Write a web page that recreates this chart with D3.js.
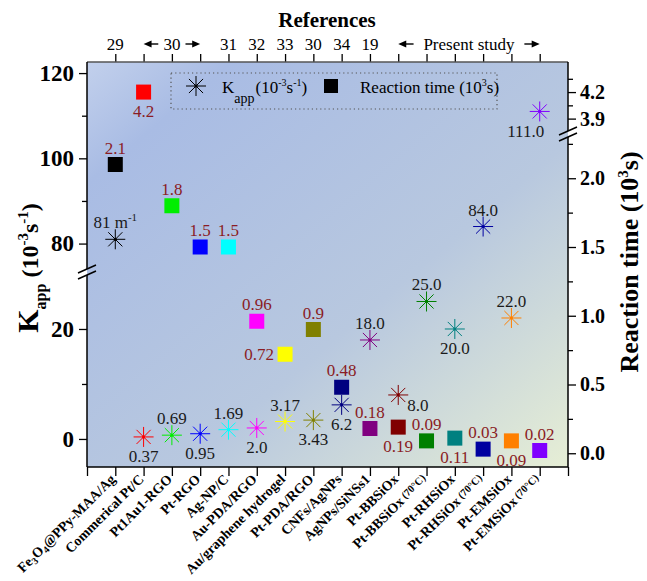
<!DOCTYPE html>
<html>
<head>
<meta charset="utf-8">
<script src="https://cdn.jsdelivr.net/npm/d3@7"></script>
<style>
  body { margin: 0; background: #fff; }
  text { font-family: "Liberation Serif", "Times New Roman", serif; }
</style>
</head>
<body>
<svg width="647" height="581"></svg>
<script>
// categories (bottom axis)
const categories = [
    "Fe3O4@PPy-MAA/Ag", "Commerical Pt/C", "Pt1Au1-RGO", "Pt-RGO", "Ag-NP/C",
    "Au-PDA/RGO", "Au/graphene hydrogel", "Pt-PDA/RGO", "CNFs/AgNPs", "AgNPs/SiNSs1",
    "Pt-BBSiOx", "Pt-BBSiOx (70°C)", "Pt-RHSiOx", "Pt-RHSiOx (70°C)", "Pt-EMSiOx", "Pt-EMSiOx (70°C)"
];

// reference numbers on top axis and how many categories each one covers
const refNames = ["29", "30", "31", "32", "33", "30", "34", "19", "Present study"];
const refSpans = [1, 3, 1, 1, 1, 1, 1, 1, 6];

// K_app (10^-3 s^-1)
const kapp = [81, 0.37, 0.69, 0.95, 1.69, 2.0, 3.17, 3.43, 6.2, 18.0, 8.0, 25.0, 20.0, 84.0, 22.0, 111.0];
const kappLabels = ["81 m-1", "0.37", "0.69", "0.95", "1.69", "2.0", "3.17", "3.43", "6.2", "18.0", "8.0", "25.0", "20.0", "84.0", "22.0", "111.0"];
const kappLabelPos = ["above", "below", "above", "below", "above", "below", "above", "below",
    "below", "above", "right", "above", "below", "above", "above", "belowleft"];

// reaction time (10^3 s)
const rtime = [2.1, 4.2, 1.8, 1.5, 1.5, 0.96, 0.72, 0.9, 0.48, 0.18, 0.19, 0.09, 0.11, 0.03, 0.09, 0.02];
const rtimeLabels = ["2.1", "4.2", "1.8", "1.5", "1.5", "0.96", "0.72", "0.9", "0.48", "0.18", "0.19", "0.09", "0.11", "0.03", "0.09", "0.02"];
const rtimeLabelPos = ["above", "below", "above", "above", "above", "above", "left", "above",
    "above", "above", "below", "above", "below", "above", "below", "above"];

const colors = ["#000000", "#ff0000", "#00ee00", "#0000ff", "#00ffff", "#ff00ff", "#ffff00", "#808000",
    "#000080", "#800080", "#800000", "#008000", "#008080", "#0000a0", "#ff8000", "#8000ff"];

// axis ticks
const kLowTicks = [0, 20], kLowMinor = [10];
const kHighTicks = [80, 100, 120], kHighMinor = [90, 110];
const tLowTicks = [0, 0.5, 1.0, 1.5, 2.0], tLowMinor = [0.25, 0.75, 1.25, 1.75, 2.25];
const tHighTicks = [3.9, 4.2], tHighMinor = [4.05, 4.35];

const chart = () => {
    const svg = d3.select("svg");
    const left = 87, right = 568, top = 62, bottom = 467;
    const brkL = 272, brkR = 134;

    const x = d3.scaleLinear().domain([0, categories.length + 1]).range([left, right]);
    // broken left axis
    const kLow = d3.scaleLinear().domain([-5.1, 30]).range([bottom, 274]);
    const kHigh = d3.scaleLinear().domain([73.8, 122.6]).range([270, top]);
    const ky = v => v > 50 ? kHigh(v) : kLow(v);
    // broken right axis
    const tLow = d3.scaleLinear().domain([-0.1, 2.3]).range([bottom, 137]);
    const tHigh = d3.scaleLinear().domain([3.76, 4.54]).range([131, top]);
    const ty = v => v > 3 ? tHigh(v) : tLow(v);

    // background gradient
    const defs = svg.append("defs");
    const grad = defs.append("linearGradient").attr("id", "bg")
        .attr("x1", 0).attr("y1", 0).attr("x2", 1).attr("y2", 1);
    grad.append("stop").attr("offset", 0).attr("stop-color", "#c2d0ec");
    grad.append("stop").attr("offset", 0.15).attr("stop-color", "#a9bce4");
    grad.append("stop").attr("offset", 0.6).attr("stop-color", "#b8c8df");
    grad.append("stop").attr("offset", 1).attr("stop-color", "#e6eed5");

    svg.append("rect")
        .attr("x", left).attr("y", top)
        .attr("width", right - left).attr("height", bottom - top)
        .attr("fill", "url(#bg)");

    // ---- axes ----
    const tickStyle = g => {
        g.select(".domain").remove();
        g.selectAll("line").attr("stroke", "#000").attr("stroke-width", 1.3);
    };

    const leftAxis = (scale, ticks, minor) => {
        svg.append("g").attr("transform", `translate(${left},0)`)
            .call(d3.axisLeft(scale).tickValues(ticks).tickSize(8).tickPadding(5))
            .call(tickStyle)
            .call(g => g.selectAll("text").attr("font-size", 23).attr("font-weight", "bold")
                .attr("font-family", "Liberation Serif").attr("fill", "#000"));
        svg.append("g").attr("transform", `translate(${left},0)`)
            .call(d3.axisLeft(scale).tickValues(minor).tickSize(5).tickFormat(""))
            .call(tickStyle);
    };
    leftAxis(kLow, kLowTicks, kLowMinor);
    leftAxis(kHigh, kHighTicks, kHighMinor);

    const rightAxis = (scale, ticks, minor) => {
        svg.append("g").attr("transform", `translate(${right},0)`)
            .call(d3.axisRight(scale).tickValues(ticks).tickSize(8).tickPadding(4).tickFormat(d3.format(".1f")))
            .call(tickStyle)
            .call(g => g.selectAll("text").attr("font-size", 20).attr("font-weight", "bold")
                .attr("font-family", "Liberation Serif").attr("fill", "#000"));
        svg.append("g").attr("transform", `translate(${right},0)`)
            .call(d3.axisRight(scale).tickValues(minor).tickSize(5).tickFormat(""))
            .call(tickStyle);
    };
    rightAxis(tLow, tLowTicks, tLowMinor);
    rightAxis(tHigh, tHighTicks, tHighMinor);

    // bottom and top ticks
    svg.append("g").attr("transform", `translate(0,${bottom})`)
        .call(d3.axisBottom(x).tickValues(d3.range(0, categories.length + 2)).tickSize(9).tickFormat(""))
        .call(tickStyle);
    svg.append("g").attr("transform", `translate(0,${top})`)
        .call(d3.axisTop(x).tickValues(d3.range(1, categories.length + 1)).tickSize(8).tickFormat(""))
        .call(tickStyle);

    // axis lines with breaks
    const axisLines = svg.append("g").attr("stroke", "#000").attr("stroke-width", 1.5).attr("fill", "none");
    axisLines.append("line").attr("x1", left).attr("x2", right).attr("y1", bottom).attr("y2", bottom);
    axisLines.append("line").attr("x1", left).attr("x2", right).attr("y1", top).attr("y2", top)
        .attr("stroke", "#555");
    axisLines.append("line").attr("x1", left).attr("x2", left).attr("y1", top).attr("y2", brkL - 3);
    axisLines.append("line").attr("x1", left).attr("x2", left).attr("y1", brkL + 3).attr("y2", bottom);
    axisLines.append("line").attr("x1", right).attr("x2", right).attr("y1", top).attr("y2", brkR - 3);
    axisLines.append("line").attr("x1", right).attr("x2", right).attr("y1", brkR + 3).attr("y2", bottom);
    [[left, brkL], [right, brkR]].forEach(([bx, by]) => {
        [-3, 3].forEach(off => {
            axisLines.append("line")
                .attr("x1", bx - 9).attr("y1", by + off + 4)
                .attr("x2", bx + 9).attr("y2", by + off - 4)
                .attr("stroke-width", 1.4);
        });
    });

    // ---- top references ----
    const refG = svg.append("g").attr("font-size", 17).attr("fill", "#000");
    let start = 1;
    refNames.forEach((name, i) => {
        const span = refSpans[i];
        const cx = x(start + (span - 1) / 2);
        refG.append("text").attr("x", cx).attr("y", 50).attr("text-anchor", "middle").text(name);
        if (span > 1) {
            const x0 = x(start), x1 = x(start + span - 1);
            const w = name.length * 7.6 / 2 + 6;
            [[x0, cx - w], [x1, cx + w]].forEach(([tip, tail]) => {
                const dir = tip < tail ? 1 : -1;
                refG.append("line").attr("x1", tail).attr("x2", tip + dir * 6)
                    .attr("y1", 44).attr("y2", 44).attr("stroke", "#000").attr("stroke-width", 1.4);
                refG.append("path")
                    .attr("d", `M${tip},44 L${tip + dir * 8},40.5 L${tip + dir * 8},47.5 Z`)
                    .attr("fill", "#000");
            });
        }
        start += span;
    });

    svg.append("text").attr("x", 327).attr("y", 27).attr("text-anchor", "middle")
        .attr("font-size", 21).attr("font-weight", "bold").text("References");

    // ---- category labels ----
    const catG = svg.append("g").attr("font-size", 14).attr("font-weight", "bold");
    categories.forEach((name, i) => {
        const t = catG.append("text")
            .attr("transform", `translate(${x(i + 1) + 1},${bottom + 13}) rotate(-45)`)
            .attr("text-anchor", "end").attr("dy", "0.35em");
        const m = name.match(/^(.*?)( \(70°C\))?$/);
        const pieces = m[1].split(/(?<=^Fe|^Fe\dO)(\d)/);
        pieces.forEach((p, j) => {
            if (j % 2 === 1) t.append("tspan").attr("font-size", 10).attr("dy", 3).text(p);
            else t.append("tspan").attr("dy", j > 0 ? -3 : 0).text(p);
        });
        if (m[2]) t.append("tspan").attr("font-size", 10.5).attr("dy", -2).text(m[2]);
    });

    // ---- markers ----
    const starPath = r => {
        let d = "";
        [0, 45, 90, 135].forEach(a => {
            const dx = r * Math.cos(a * Math.PI / 180), dy = r * Math.sin(a * Math.PI / 180);
            d += `M${-dx},${-dy}L${dx},${dy}`;
        });
        return d;
    };

    const place = (pos, cx, cy) => {
        if (pos === "above") return [cx, cy - 11, "middle"];
        if (pos === "below") return [cx, cy + 25, "middle"];
        if (pos === "left") return [cx - 11, cy + 6, "end"];
        if (pos === "right") return [cx + 9, cy + 16, "start"];
        return [cx - 14, cy + 26, "middle"];
    };

    // reaction time squares
    const sq = 15;
    svg.append("g").selectAll("rect").data(rtime).join("rect")
        .attr("x", (d, i) => x(i + 1) - sq / 2)
        .attr("y", d => ty(d) - sq / 2)
        .attr("width", sq).attr("height", sq)
        .attr("fill", (d, i) => colors[i]);

    svg.append("g").attr("font-size", 17).attr("fill", "#8a1c24")
        .selectAll("text").data(rtime).join("text")
        .each(function (d, i) {
            const [lx, ly, an] = place(rtimeLabelPos[i], x(i + 1), ty(d));
            d3.select(this).attr("x", lx).attr("y", ly).attr("text-anchor", an).text(rtimeLabels[i]);
        });

    // kapp stars
    const stars = svg.append("g").selectAll("g").data(kapp).join("g")
        .attr("transform", (d, i) => `translate(${x(i + 1)},${ky(d)})`);
    stars.append("path").attr("d", starPath(10))
        .attr("stroke", (d, i) => colors[i]).attr("stroke-width", 1).attr("fill", "none");
    stars.append("circle").attr("r", 1.6).attr("fill", (d, i) => colors[i]);

    svg.append("g").attr("font-size", 17).attr("fill", "#1a1a1a")
        .selectAll("text").data(kapp).join("text")
        .each(function (d, i) {
            const [lx, ly, an] = place(kappLabelPos[i], x(i + 1), ky(d));
            const t = d3.select(this).attr("x", lx).attr("y", ly).attr("text-anchor", an);
            const m = kappLabels[i].match(/^(.* m)(-1)$/);
            if (m) {
                t.append("tspan").text(m[1]);
                t.append("tspan").attr("font-size", 11).attr("dy", -7).text(m[2]);
            } else t.text(kappLabels[i]);
        });

    // ---- legend ----
    const lg = svg.append("g");
    lg.append("rect").attr("x", 171).attr("y", 73).attr("width", 326).attr("height", 36)
        .attr("fill", "none").attr("stroke", "#555").attr("stroke-width", 1.2)
        .attr("stroke-dasharray", "1.2,3");
    lg.append("path").attr("d", starPath(10)).attr("transform", "translate(196,86)")
        .attr("stroke", "#000").attr("fill", "none");
    lg.append("circle").attr("cx", 196).attr("cy", 86).attr("r", 1.6);
    const lt = lg.append("text").attr("x", 222).attr("y", 93).attr("font-size", 17);
    lt.append("tspan").text("K");
    lt.append("tspan").attr("font-size", 14).attr("dy", 10).text("app");
    lt.append("tspan").attr("dy", -10).attr("dx", 1).text("(10");
    lt.append("tspan").attr("font-size", 10).attr("dy", -7).text("-3");
    lt.append("tspan").attr("dy", 7).text("s");
    lt.append("tspan").attr("font-size", 10).attr("dy", -7).text("-1");
    lt.append("tspan").attr("dy", 7).text(")");
    lg.append("rect").attr("x", 324).attr("y", 79).attr("width", 14).attr("height", 14).attr("fill", "#000");
    const lt2 = lg.append("text").attr("x", 360).attr("y", 93).attr("font-size", 17);
    lt2.append("tspan").text("Reaction time (10");
    lt2.append("tspan").attr("font-size", 10).attr("dy", -7).text("3");
    lt2.append("tspan").attr("dy", 7).text("s)");

    // ---- axis titles ----
    const yl = svg.append("text").attr("transform", "translate(38,268) rotate(-90)")
        .attr("text-anchor", "middle").attr("font-weight", "bold").attr("font-size", 24);
    yl.append("tspan").attr("font-size", 30).text("K");
    yl.append("tspan").attr("font-size", 16).attr("dy", 8).text("app");
    yl.append("tspan").attr("dy", -8).text(" (10");
    yl.append("tspan").attr("font-size", 15).attr("dy", -10).text("-3");
    yl.append("tspan").attr("dy", 10).text("s");
    yl.append("tspan").attr("font-size", 15).attr("dy", -10).text("-1");
    yl.append("tspan").attr("dy", 10).text(")");

    const yr = svg.append("text").attr("transform", "translate(638,262) rotate(-90)")
        .attr("text-anchor", "middle").attr("font-weight", "bold").attr("font-size", 26);
    yr.append("tspan").text("Reaction time (10");
    yr.append("tspan").attr("font-size", 15).attr("dy", -10).text("3");
    yr.append("tspan").attr("dy", 10).text("s)");
};

chart();
</script>
</body>
</html>
